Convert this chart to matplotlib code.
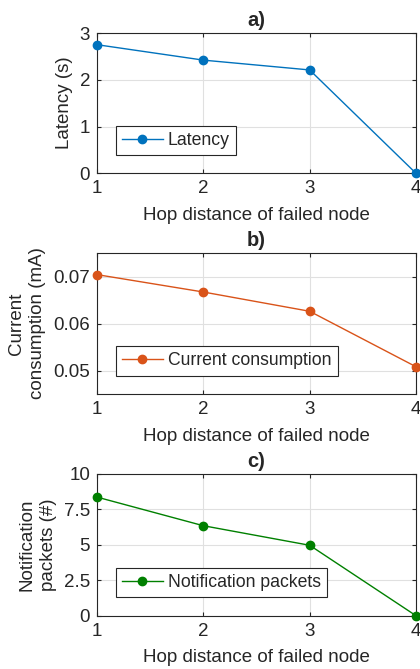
import matplotlib
matplotlib.use('Agg')
from matplotlib import pyplot as plt

plt.rcParams['font.family'] = ['Liberation Sans', 'DejaVu Sans']
plt.rcParams['text.color'] = '#262626'
plt.rcParams['axes.labelcolor'] = '#262626'
plt.rcParams['xtick.color'] = '#262626'
plt.rcParams['ytick.color'] = '#262626'

hops = [1, 2, 3, 4]
latency = [2.75, 2.42, 2.21, 0.0]
current = [0.0704, 0.0667, 0.0626, 0.0508]
packets = [8.37, 6.35, 4.97, 0.0]

panels = [
    ('a)', latency, '#0072BD', 'Latency', 'Latency (s)', (0, 3), [0, 1, 2, 3], ['0', '1', '2', '3']),
    ('b)', current, '#D95319', 'Current consumption', 'Current\nconsumption (mA)',
     (0.045, 0.075), [0.05, 0.06, 0.07], ['0.05', '0.06', '0.07']),
    ('c)', packets, '#008000', 'Notification packets', 'Notification\npackets (#)',
     (0, 10), [0, 2.5, 5, 7.5, 10], ['0', '2.5', '5', '7.5', '10']),
]

W, H = 420, 669
fig = plt.figure(figsize=(W / 100, H / 100), dpi=100)
# axes boxes in pixels: left, top, right, bottom
boxes = [(97, 33, 416, 173.3), (97, 253, 416, 394), (97, 474, 416, 615.7)]

for (title, vals, col, lab, ylab, ylim, yt, ytl), (l, t, r, b) in zip(panels, boxes):
    ax = fig.add_axes([l / W, 1 - b / H, (r - l) / W, (b - t) / H])
    ax.plot(hops, vals, '-o', color=col, lw=1, ms=6, label=lab, clip_on=False, zorder=3)
    ax.set_xlim(1, 4)
    ax.set_ylim(*ylim)
    ax.set_xticks(hops)
    ax.set_yticks(yt)
    ax.set_yticklabels(ytl)
    ax.tick_params(direction='in', length=3, labelsize=13.5, top=True, right=True,
                   width=0.8, pad=5)
    ax.grid(True, color='#e0e0e0', lw=0.8)
    ax.set_axisbelow(True)
    for s in ax.spines.values():
        s.set_color('#262626')
        s.set_linewidth(0.8)
    ax.set_xlabel('Hop distance of failed node', fontsize=13.5, labelpad=7)
    ax.set_ylabel(ylab, fontsize=13.5, labelpad=5, linespacing=1.35)
    ax.set_title(title, fontsize=14.5, fontweight='bold', pad=5)
    leg = ax.legend(loc='lower left', bbox_to_anchor=(0.059, 0.13), fontsize=12.7,
                    fancybox=False, framealpha=1, edgecolor='#262626',
                    handlelength=2.3, borderpad=0.35, handletextpad=0.3,
                    borderaxespad=0)
    leg.get_frame().set_linewidth(0.8)

fig.savefig('out.png', dpi=100)
